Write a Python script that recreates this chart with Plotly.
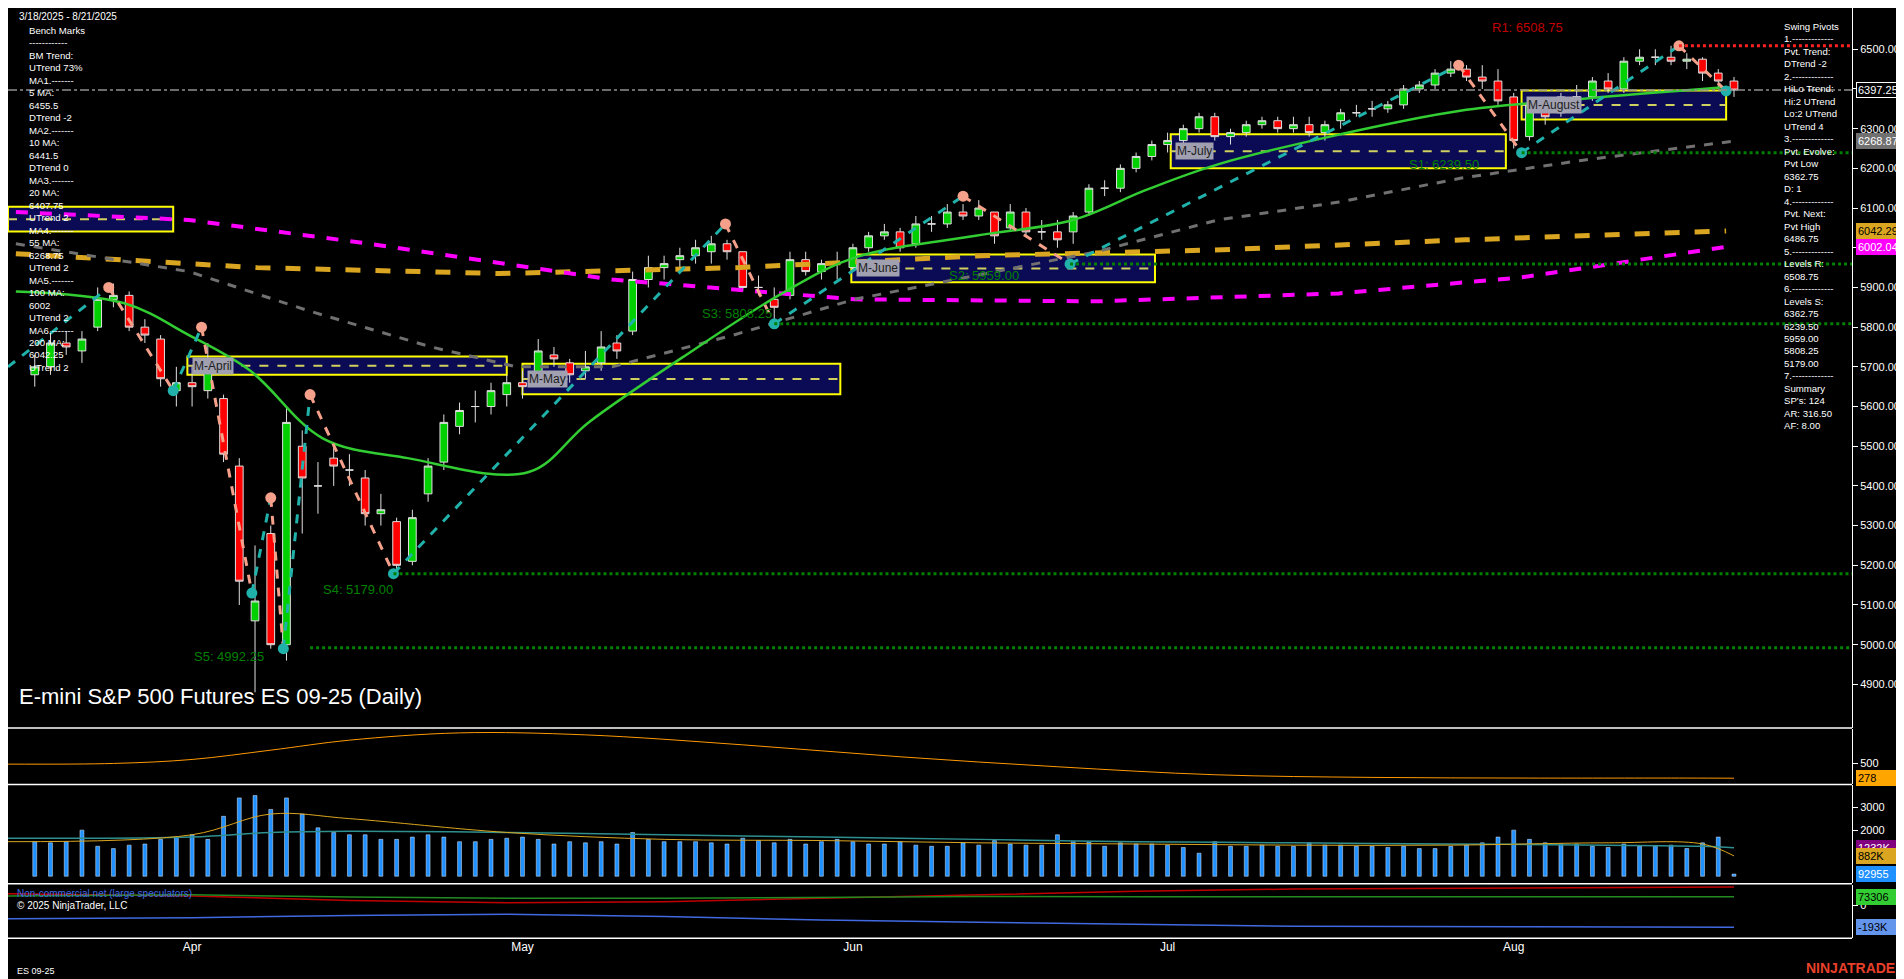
import plotly.graph_objects as go
import pandas as pd

# ---- daily bars (ES 09-25) ----
dates = pd.bdate_range("2025-03-18", "2025-08-21")
holidays = pd.to_datetime(["2025-04-18", "2025-05-26", "2025-06-19", "2025-07-04"])
dates = [d for d in dates if d not in holidays]

opens = [5680, 5700, 5760, 5740, 5800, 5870, 5880, 5800, 5770, 5640,
         5660, 5640, 5620, 5450, 5060, 5280, 5000, 5500, 5400, 5470, 5440, 5420, 5330, 5310, 5210, 5380, 5460, 5550, 5600, 5600, 5630,
         5660, 5680, 5730, 5710, 5690, 5710, 5760, 5790, 5920, 5950, 5970, 5980, 5990, 6010, 5990, 5900, 5870, 5880, 5970, 5940, 5960,
         5950, 6000, 6030, 6040, 6010, 6060, 6060, 6090, 6080, 6090, 6050, 6090, 6040, 6040, 6040, 6090, 6150, 6150, 6200, 6230,
         6260, 6270, 6300, 6330, 6280, 6290, 6310, 6320, 6300, 6310, 6290, 6320, 6340, 6350, 6350, 6360, 6400, 6410, 6440, 6450, 6430, 6420,
         6380, 6280, 6360, 6340, 6380, 6380, 6420, 6400, 6470, 6480, 6480, 6470, 6475, 6440, 6420]
highs = [5730, 5790, 5790, 5790, 5900, 5910, 5890, 5820, 5780, 5700,
         5700, 5760, 5630, 5470, 5250, 5300, 5600, 5540, 5460, 5500, 5480, 5440, 5380, 5320, 5340, 5470, 5580, 5610, 5640, 5660, 5680,
         5690, 5770, 5750, 5720, 5740, 5790, 5780, 5940, 5980, 5980, 6000, 6020, 6030, 6020, 5990, 5930, 5900, 5990, 5990, 5970, 5990,
         6010, 6040, 6060, 6050, 6080, 6080, 6110, 6110, 6120, 6090, 6110, 6100, 6070, 6070, 6090, 6160, 6170, 6210, 6240, 6270,
         6290, 6310, 6340, 6340, 6300, 6320, 6330, 6330, 6330, 6330, 6320, 6350, 6360, 6370, 6370, 6410, 6420, 6450, 6470, 6460, 6460, 6450,
         6390, 6370, 6380, 6390, 6410, 6430, 6440, 6480, 6500, 6500, 6508.75, 6490, 6480, 6450, 6430]
lows = [5650, 5680, 5730, 5710, 5790, 5850, 5790, 5760, 5650, 5600,
        5600, 5620, 5460, 5100, 4880, 4990, 4960, 5280, 5330, 5400, 5400, 5300, 5300, 5180, 5200, 5360, 5440, 5530, 5560, 5580, 5600,
        5620, 5670, 5700, 5660, 5670, 5690, 5720, 5780, 5900, 5920, 5940, 5960, 5960, 5970, 5890, 5880, 5820, 5870, 5930, 5920, 5920,
        5940, 5990, 6020, 5990, 6000, 6040, 6050, 6070, 6070, 6010, 6040, 6030, 6020, 6000, 6010, 6080, 6130, 6140, 6190, 6220,
        6240, 6260, 6290, 6270, 6260, 6280, 6300, 6290, 6290, 6280, 6270, 6300, 6330, 6330, 6340, 6350, 6390, 6400, 6430, 6420, 6400, 6360,
        6250, 6270, 6310, 6330, 6350, 6370, 6390, 6390, 6460, 6460, 6460, 6450, 6420, 6400, 6380]
closes = [5700, 5760, 5750, 5770, 5870, 5880, 5800, 5780, 5670, 5660,
          5650, 5700, 5480, 5160, 5110, 5000, 5560, 5420, 5400, 5450, 5440, 5330, 5340, 5200, 5320, 5450, 5560, 5590, 5600, 5640, 5660,
          5650, 5740, 5720, 5680, 5700, 5750, 5740, 5920, 5950, 5960, 5980, 6000, 6010, 5990, 5900, 5900, 5850, 5970, 5940, 5960, 5960,
          6000, 6030, 6040, 6000, 6060, 6060, 6090, 6080, 6100, 6030, 6090, 6040, 6040, 6020, 6080, 6150, 6150, 6200, 6230, 6260,
          6270, 6300, 6330, 6280, 6290, 6310, 6320, 6300, 6310, 6290, 6310, 6340, 6340, 6350, 6360, 6400, 6410, 6440, 6450, 6430, 6420, 6370,
          6270, 6360, 6330, 6380, 6380, 6420, 6400, 6470, 6480, 6480, 6470, 6475, 6440, 6420, 6397.25]
volume_k = [1500, 1450, 1500, 2000, 1300, 1200, 1350, 1400, 1600, 1700,
            1800, 1600, 2600, 3400, 3500, 2900, 3400, 2700, 2100, 1900, 1800, 1800, 1600, 1600, 1700, 1800, 1700, 1500, 1500, 1600, 1650,
            1700, 1600, 1400, 1500, 1450, 1500, 1400, 1900, 1600, 1500, 1500, 1500, 1450, 1400, 1650, 1550, 1450, 1600, 1400, 1500, 1600,
            1500, 1400, 1400, 1500, 1350, 1300, 1300, 1450, 1350, 1550, 1400, 1350, 1350, 1800, 1500, 1500, 1300, 1450, 1400, 1400,
            1350, 1250, 1000, 1500, 1300, 1300, 1350, 1300, 1300, 1450, 1350, 1350, 1300, 1300, 1250, 1300, 1200, 1200, 1300, 1350, 1450, 1700,
            2000, 1600, 1450, 1400, 1400, 1300, 1250, 1400, 1300, 1300, 1350, 1200, 1450, 1700, 93]

month_idx = [10, 31, 52, 72, 94]
month_lbl = ["Apr", "May", "Jun", "Jul", "Aug"]

# moving averages sampled along the chart (bar index, price)
ma_idx = [-1.2, 5.7, 9.8, 13.7, 18.3, 23.7, 31.4, 35.2, 41.4, 47.5, 52.1, 59.8, 66, 70.6, 75.2, 82.9, 90.6, 98.3, 107.5]
ma20 = [5890, 5860, 5780, 5690, 5520, 5470, 5435, 5560, 5730, 5885, 5975, 6030, 6070, 6145, 6210, 6285, 6345, 6375, 6405]
ma_s_idx = [-1.2, 9.8, 17.5, 25.2, 30.6, 36.7, 44.4, 52.1, 59.8, 67.5, 75.2, 82.9, 90.6, 98.3, 108.3]
ma55 = [6010, 5940, 5840, 5750, 5700, 5700, 5780, 5870, 5930, 5990, 6070, 6115, 6175, 6220, 6270]
ma200_idx = [-1.2, 14.1, 29.5, 44.8, 60.2, 75.5, 90.9, 107.5]
ma200 = [5985, 5950, 5935, 5950, 5980, 5995, 6020, 6042.29]
ma100_idx = [-1.2, 9.8, 21.3, 36.7, 52.1, 67.5, 82.9, 94.4, 107.5]
ma100 = [6090, 6070, 6010, 5920, 5870, 5865, 5885, 5925, 6002.04]

# swing pivots zigzag
piv_idx = [-1.7, 4.7, 8.8, 10.6, 13.8, 15.0, 15.8, 17.5, 22.8, 43.9, 47.0, 59.0, 65.8, 90.5, 94.5, 104.5, 107.5]
piv_px = [5700, 5900, 5640, 5800, 5130, 5370, 4990, 5630, 5179, 6060, 5808.25, 6130, 5959, 6460, 6239.5, 6508.75, 6395]

# levels
lvl_name = ["S5", "S4", "S3", "S2", "S1", "R1"]
lvl_px = [4992.25, 5179.00, 5808.25, 5959.00, 6239.50, 6508.75]
lvl_start = [17.5, 22.8, 47.0, 65.8, 94.5, 104.5]
lvl_lab_idx = [10.0, 18.2, 42.3, 58.0, 87.2, 92.5]
lvl_lab_px = [4970, 5140, 5835, 5930, 6210, 6555]

# monthly range boxes
box_lbl = ["", "M-April", "M-May", "M-June", "M-July", "M-August"]
box_x0 = [-1.7, 9.7, 31.0, 51.9, 72.2, 94.5]
box_x1 = [8.8, 30.0, 51.2, 71.2, 93.5, 107.5]
box_lo = [6041, 5680, 5631, 5913, 6200, 6323]
box_hi = [6103, 5726, 5708, 5983, 6286, 6396]

# lower panels
osc_idx = [-1.7, 5, 10, 15, 20, 27, 35, 45, 55, 65, 75, 85, 95, 105, 108]
osc = [490, 500, 560, 700, 850, 960, 930, 780, 600, 450, 330, 290, 280, 280, 278]
vavg_idx = [-1.7, 10, 15, 20, 30, 40, 50, 60, 70, 80, 90, 100, 106, 108]
vavg_orange = [1500, 1800, 2700, 2500, 1900, 1600, 1550, 1450, 1400, 1350, 1350, 1450, 1400, 882]
vavg_teal = [1650, 1700, 1900, 1950, 1900, 1800, 1700, 1600, 1500, 1450, 1400, 1350, 1300, 1232]
cot_idx = [-1.7, 10, 20, 30, 40, 50, 60, 70, 80, 95, 108]
cot_red = [100, 80, 40, 20, 30, 60, 90, 120, 140, 150, 158]
cot_green = [80, 90, 70, 60, 60, 70, 75, 73, 73, 73, 73.3]
cot_blue = [-120, -110, -90, -80, -100, -130, -150, -170, -185, -190, -193]

x = list(range(len(dates)))
FONT = "Liberation Sans"

fig = go.Figure()
for i in range(len(box_lbl)):
    fig.add_shape(type="rect", x0=box_x0[i], x1=box_x1[i], y0=box_lo[i], y1=box_hi[i],
                  fillcolor="#0b0b55", line=dict(color="#ffff00", width=2), layer="below")
    mid = (box_lo[i] + box_hi[i]) / 2
    fig.add_shape(type="line", x0=box_x0[i], x1=box_x1[i], y0=mid, y1=mid,
                  line=dict(color="#d0d060", width=2, dash="dash"), layer="below")
    if box_lbl[i]:
        fig.add_annotation(x=box_x0[i] + 0.3, y=mid, text=box_lbl[i], showarrow=False, xanchor="left",
                           font=dict(family=FONT, size=12, color="#202020"), bgcolor="#a0a0b0")

# levels
for n, p, s, lx, ly in zip(lvl_name, lvl_px, lvl_start, lvl_lab_idx, lvl_lab_px):
    col = "#ff2020" if n.startswith("R") else "#008000"
    fig.add_shape(type="line", x0=s, x1=115.5, y0=p, y1=p, line=dict(color=col, width=3, dash="dot"))
    fig.add_annotation(x=lx, y=ly, text=f"{n}: {p:.2f}", showarrow=False, xanchor="left",
                       font=dict(family=FONT, size=13, color="#c00000" if n.startswith("R") else "#008000"))
fig.add_shape(type="line", x0=-1.7, x1=115.5, y0=closes[-1], y1=closes[-1],
              line=dict(color="#909090", width=1.5, dash="dashdot"))

# MAs
fig.add_trace(go.Scatter(x=ma200_idx, y=ma200, mode="lines", line=dict(color="#daa520", width=5, dash="dash")))
fig.add_trace(go.Scatter(x=ma100_idx, y=ma100, mode="lines", line=dict(color="#ff00ff", width=4, dash="dash")))
fig.add_trace(go.Scatter(x=ma_s_idx, y=ma55, mode="lines", line=dict(color="#707070", width=3, dash="dash")))
fig.add_trace(go.Scatter(x=ma_idx, y=ma20, mode="lines", line=dict(color="#32cd32", width=2.5, shape="spline")))

# zigzag
for i in range(len(piv_idx) - 1):
    up = piv_px[i + 1] > piv_px[i]
    fig.add_trace(go.Scatter(x=piv_idx[i:i + 2], y=piv_px[i:i + 2], mode="lines",
                             line=dict(color="#20b2aa" if up else "#f4a08a", width=3, dash="dash")))
fig.add_trace(go.Scatter(
    x=piv_idx[1:], y=piv_px[1:], mode="markers",
    marker=dict(size=11, color=["#20b2aa" if piv_px[i] < piv_px[i - 1] else "#f4a08a" for i in range(1, len(piv_px))])))

fig.add_trace(go.Candlestick(
    x=x, open=opens, high=highs, low=lows, close=closes,
    increasing=dict(line=dict(color="#e0e0e0", width=1), fillcolor="#00d000"),
    decreasing=dict(line=dict(color="#e0e0e0", width=1), fillcolor="#ff0000"),
    whiskerwidth=0))

# oscillator panel
fig.add_trace(go.Scatter(x=osc_idx, y=osc, mode="lines", yaxis="y2", line=dict(color="#ff9900", width=1, shape="spline")))
# volume panel
fig.add_trace(go.Bar(x=x, y=volume_k, yaxis="y3", marker_color="#1e90ff", width=0.25))
fig.add_trace(go.Scatter(x=vavg_idx, y=vavg_teal, mode="lines", yaxis="y3", line=dict(color="#2f8f8f", width=1.5, shape="spline")))
fig.add_trace(go.Scatter(x=vavg_idx, y=vavg_orange, mode="lines", yaxis="y3", line=dict(color="#daa520", width=1, shape="spline")))
# COT panel
fig.add_trace(go.Scatter(x=cot_idx, y=cot_red, mode="lines", yaxis="y4", line=dict(color="#c00000", width=1.5)))
fig.add_trace(go.Scatter(x=cot_idx, y=cot_green, mode="lines", yaxis="y4", line=dict(color="#228b22", width=1.5)))
fig.add_trace(go.Scatter(x=cot_idx, y=cot_blue, mode="lines", yaxis="y4", line=dict(color="#4169e1", width=1.5)))

ax = dict(side="right", color="white", showgrid=False, zeroline=False, ticks="outside", ticklen=5,
          tickfont=dict(family=FONT, size=11, color="white"), showline=True, linecolor="white", anchor="x")
fig.update_layout(
    width=1904, height=979, paper_bgcolor="black", plot_bgcolor="black", showlegend=False,
    margin=dict(l=0, r=60, t=0, b=44),
    xaxis=dict(range=[-1.7, 115.5], tickvals=month_idx, ticktext=month_lbl, showgrid=False, zeroline=False,
               tickfont=dict(family=FONT, size=12, color="white"), rangeslider=dict(visible=False), ticks="",
               anchor="y4"),
    yaxis=dict(domain=[0.2299, 1], range=[4790, 6604], tickvals=list(range(4900, 6501, 100)),
               tickformat=".2f", **ax),
    yaxis2=dict(domain=[0.17, 0.229], range=[190, 1020], tickvals=[500], **ax),
    yaxis3=dict(domain=[0.064, 0.169], range=[-300, 3960], tickvals=[2000, 3000], ticksuffix="K", **ax),
    yaxis4=dict(domain=[0.005, 0.062], range=[-290, 175], tickvals=[0], **ax),
)

for yb in [0.2299, 0.1695, 0.0635, 0.005]:
    fig.add_shape(type="line", xref="paper", yref="paper", x0=0, x1=1, y0=yb, y1=yb, line=dict(color="white", width=1.5))

# right axis value tags
tags = [("y", 6397.25, "6397.25", "black", "white"), ("y", 6268.87, "6268.87", "#707070", "white"),
        ("y", 6042.29, "6042.29", "#daa520", "black"), ("y", 6002.04, "6002.04", "#ff00ff", "white"),
        ("y2", 278, "278", "#ffa500", "black"), ("y3", 1232, "1232K", "#800080", "white"),
        ("y3", 882, "882K", "#daa520", "black"), ("y3", 93, "92955", "#1e90ff", "white"),
        ("y4", 73.3, "73306", "#32cd32", "black"), ("y4", -193, "-193K", "#6495ed", "black")]
for yr, v, t, bg, fc in tags:
    fig.add_annotation(xref="paper", yref=yr, x=1.002, y=v, text=t, showarrow=False, xanchor="left",
                       bgcolor=bg, bordercolor="white" if bg == "black" else bg, borderwidth=1,
                       font=dict(family=FONT, size=11, color=fc), width=48, align="left")

left_text = ("Bench Marks<br>------------<br>BM Trend:<br>UTrend 73%<br>MA1.-------<br>5 MA:<br>6455.5<br>DTrend -2<br>"
             "MA2.-------<br>10 MA:<br>6441.5<br>DTrend 0<br>MA3.-------<br>20 MA:<br>6407.75<br>UTrend 2<br>"
             "MA4.-------<br>55 MA:<br>6268.75<br>UTrend 2<br>MA5.-------<br>100 MA:<br>6002<br>UTrend 2<br>"
             "MA6.-------<br>200 MA:<br>6042.25<br>UTrend 2")
right_text = ("Swing Pivots<br>1.-------------<br>Pvt. Trend:<br>DTrend -2<br>2.-------------<br>HiLo Trend:<br>"
              "Hi:2 UTrend<br>Lo:2 UTrend<br>UTrend 4<br>3.-------------<br>Pvt. Evolve:<br>Pvt Low<br>6362.75<br>"
              "D: 1<br>4.-------------<br>Pvt. Next:<br>Pvt High<br>6486.75<br>5.-------------<br>Levels R:<br>6508.75<br>"
              "6.-------------<br>Levels S:<br>6362.75<br>6239.50<br>5959.00<br>5808.25<br>5179.00<br>7.-------------<br>"
              "Summary<br>SP's: 124<br>AR: 316.50<br>AF: 8.00")
fig.add_annotation(xref="paper", yref="paper", x=0.005, y=0.9985, text="3/18/2025 - 8/21/2025", showarrow=False,
                   xanchor="left", yanchor="top", font=dict(family=FONT, size=10, color="white"))
fig.add_annotation(xref="paper", yref="paper", x=0.0105, y=0.984, text=left_text, showarrow=False, align="left",
                   xanchor="left", yanchor="top", font=dict(family=FONT, size=9.6, color="white"))
fig.add_annotation(xref="paper", yref="paper", x=0.962, y=0.988, text=right_text, showarrow=False, align="left",
                   xanchor="left", yanchor="top", font=dict(family=FONT, size=9.6, color="white"))
fig.add_annotation(xref="paper", yref="paper", x=0.005, y=0.248, text="E-mini S&P 500 Futures ES 09-25 (Daily)",
                   showarrow=False, xanchor="left", yanchor="bottom", font=dict(family=FONT, size=22, color="white"))
fig.add_annotation(xref="paper", yref="paper", x=0.004, y=0.045, text="Non-commercial net (large speculators)",
                   showarrow=False, xanchor="left", font=dict(family=FONT, size=10, color="#4169e1"))
fig.add_annotation(xref="paper", yref="paper", x=0.004, y=0.032, text="© 2025 NinjaTrader, LLC",
                   showarrow=False, xanchor="left", font=dict(family=FONT, size=10, color="white"))
fig.add_annotation(xref="paper", yref="paper", x=0.004, y=-0.037, text="ES 09-25", showarrow=False, xanchor="left",
                   font=dict(family=FONT, size=9, color="white"))
fig.add_annotation(xref="paper", yref="paper", x=1.03, y=-0.037, text="<b>NINJATRADER</b>", showarrow=False,
                   xanchor="right", font=dict(family=FONT, size=14, color="#e8402a"))

fig.write_html("out.html")
